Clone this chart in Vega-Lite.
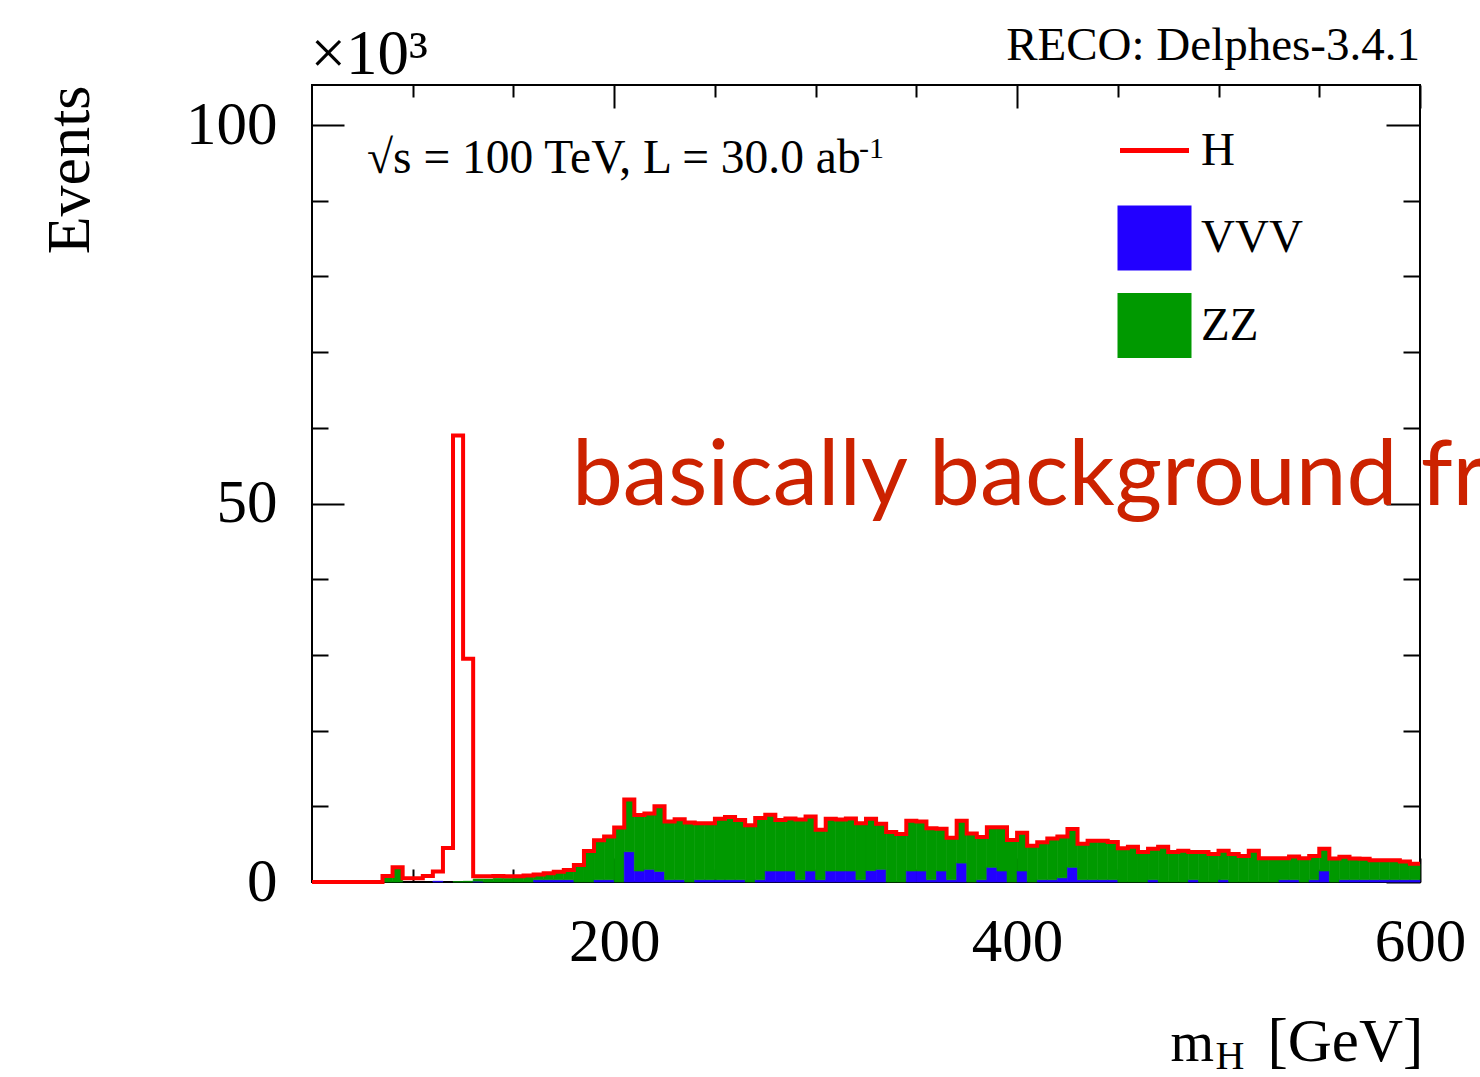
{
 "$schema": "https://vega.github.io/schema/vega-lite/v6.json",
 "width": 1108,
 "height": 797,
 "autosize": {"type": "none"},
 "padding": {"left": 312, "top": 85, "right": 60, "bottom": 195},
 "background": "white",
 "title": {"text": "RECO: Delphes-3.4.1", "anchor": "end", "frame": "group", "font": "Liberation Serif", "fontSize": 47, "fontWeight": "normal", "color": "black", "baseline": "alphabetic", "offset": 0, "dy": 84},
 "datasets": {"h": [
  {"lo":50,"hi":55,"VVV":0,"ZZ":0,"H":0},
  {"lo":55,"hi":60,"VVV":0,"ZZ":0,"H":0},
  {"lo":60,"hi":65,"VVV":0,"ZZ":0,"H":0},
  {"lo":65,"hi":70,"VVV":0,"ZZ":0,"H":0},
  {"lo":70,"hi":75,"VVV":0,"ZZ":0,"H":0},
  {"lo":75,"hi":80,"VVV":0,"ZZ":0,"H":0},
  {"lo":80,"hi":85,"VVV":0,"ZZ":0,"H":0},
  {"lo":85,"hi":90,"VVV":0,"ZZ":0.8,"H":0},
  {"lo":90,"hi":95,"VVV":0,"ZZ":1.95,"H":0},
  {"lo":95,"hi":100,"VVV":0,"ZZ":0,"H":0.5},
  {"lo":100,"hi":105,"VVV":0,"ZZ":0,"H":0.5},
  {"lo":105,"hi":110,"VVV":0,"ZZ":0,"H":0.8},
  {"lo":110,"hi":115,"VVV":0.1,"ZZ":0,"H":1.3},
  {"lo":115,"hi":120,"VVV":0,"ZZ":0,"H":4.5},
  {"lo":120,"hi":125,"VVV":0,"ZZ":0.05,"H":58.95},
  {"lo":125,"hi":130,"VVV":0,"ZZ":0.1,"H":29.4},
  {"lo":130,"hi":135,"VVV":0.1,"ZZ":0.3,"H":0.35},
  {"lo":135,"hi":140,"VVV":0,"ZZ":0.4,"H":0.35},
  {"lo":140,"hi":145,"VVV":0,"ZZ":0.5,"H":0.3},
  {"lo":145,"hi":150,"VVV":0,"ZZ":0.5,"H":0.25},
  {"lo":150,"hi":155,"VVV":0,"ZZ":0.55,"H":0.2},
  {"lo":155,"hi":160,"VVV":0,"ZZ":0.7,"H":0.15},
  {"lo":160,"hi":165,"VVV":0.3,"ZZ":0.6,"H":0.1},
  {"lo":165,"hi":170,"VVV":0.3,"ZZ":0.85,"H":0},
  {"lo":170,"hi":175,"VVV":0.3,"ZZ":1.07,"H":0},
  {"lo":175,"hi":180,"VVV":0.3,"ZZ":1.3,"H":0},
  {"lo":180,"hi":185,"VVV":0,"ZZ":2.25,"H":0},
  {"lo":185,"hi":190,"VVV":0,"ZZ":4.1,"H":0},
  {"lo":190,"hi":195,"VVV":0.3,"ZZ":5.2,"H":0},
  {"lo":195,"hi":200,"VVV":0.3,"ZZ":5.7,"H":0},
  {"lo":200,"hi":205,"VVV":0,"ZZ":7.2,"H":0},
  {"lo":205,"hi":210,"VVV":4.0,"ZZ":6.9,"H":0},
  {"lo":210,"hi":215,"VVV":1.45,"ZZ":7.4,"H":0},
  {"lo":215,"hi":220,"VVV":1.67,"ZZ":7.38,"H":0},
  {"lo":220,"hi":225,"VVV":1.4,"ZZ":8.6,"H":0},
  {"lo":225,"hi":230,"VVV":0.3,"ZZ":7.7,"H":0},
  {"lo":230,"hi":235,"VVV":0.3,"ZZ":8.0,"H":0},
  {"lo":235,"hi":240,"VVV":0,"ZZ":7.85,"H":0},
  {"lo":240,"hi":245,"VVV":0.3,"ZZ":7.45,"H":0},
  {"lo":245,"hi":250,"VVV":0.3,"ZZ":7.45,"H":0},
  {"lo":250,"hi":255,"VVV":0.3,"ZZ":8.05,"H":0},
  {"lo":255,"hi":260,"VVV":0.3,"ZZ":8.3,"H":0},
  {"lo":260,"hi":265,"VVV":0.3,"ZZ":7.9,"H":0},
  {"lo":265,"hi":270,"VVV":0,"ZZ":7.5,"H":0},
  {"lo":270,"hi":275,"VVV":0.3,"ZZ":8.15,"H":0},
  {"lo":275,"hi":280,"VVV":1.45,"ZZ":7.45,"H":0},
  {"lo":280,"hi":285,"VVV":1.45,"ZZ":6.75,"H":0},
  {"lo":285,"hi":290,"VVV":1.45,"ZZ":6.95,"H":0},
  {"lo":290,"hi":295,"VVV":0.3,"ZZ":7.95,"H":0},
  {"lo":295,"hi":300,"VVV":1.45,"ZZ":7.2,"H":0},
  {"lo":300,"hi":305,"VVV":0.3,"ZZ":6.6,"H":0},
  {"lo":305,"hi":310,"VVV":1.45,"ZZ":6.9,"H":0},
  {"lo":310,"hi":315,"VVV":1.45,"ZZ":6.8,"H":0},
  {"lo":315,"hi":320,"VVV":1.45,"ZZ":6.95,"H":0},
  {"lo":320,"hi":325,"VVV":0.3,"ZZ":7.45,"H":0},
  {"lo":325,"hi":330,"VVV":1.5,"ZZ":6.85,"H":0},
  {"lo":330,"hi":335,"VVV":1.67,"ZZ":6.03,"H":0},
  {"lo":335,"hi":340,"VVV":0,"ZZ":6.6,"H":0},
  {"lo":340,"hi":345,"VVV":0,"ZZ":6.35,"H":0},
  {"lo":345,"hi":350,"VVV":1.45,"ZZ":6.65,"H":0},
  {"lo":350,"hi":355,"VVV":1.45,"ZZ":6.55,"H":0},
  {"lo":355,"hi":360,"VVV":0.3,"ZZ":6.8,"H":0},
  {"lo":360,"hi":365,"VVV":1.45,"ZZ":5.6,"H":0},
  {"lo":365,"hi":370,"VVV":0.3,"ZZ":5.55,"H":0},
  {"lo":370,"hi":375,"VVV":2.5,"ZZ":5.6,"H":0},
  {"lo":375,"hi":380,"VVV":0,"ZZ":6.4,"H":0},
  {"lo":380,"hi":385,"VVV":0.3,"ZZ":5.65,"H":0},
  {"lo":385,"hi":390,"VVV":1.94,"ZZ":5.31,"H":0},
  {"lo":390,"hi":395,"VVV":1.45,"ZZ":5.8,"H":0},
  {"lo":395,"hi":400,"VVV":0,"ZZ":5.55,"H":0},
  {"lo":400,"hi":405,"VVV":1.45,"ZZ":5.05,"H":0},
  {"lo":405,"hi":410,"VVV":0,"ZZ":4.8,"H":0},
  {"lo":410,"hi":415,"VVV":0.3,"ZZ":4.95,"H":0},
  {"lo":415,"hi":420,"VVV":0.3,"ZZ":5.45,"H":0},
  {"lo":420,"hi":425,"VVV":0.55,"ZZ":5.45,"H":0},
  {"lo":425,"hi":430,"VVV":1.94,"ZZ":5.06,"H":0},
  {"lo":430,"hi":435,"VVV":0.3,"ZZ":4.75,"H":0},
  {"lo":435,"hi":440,"VVV":0.3,"ZZ":5.15,"H":0},
  {"lo":440,"hi":445,"VVV":0.3,"ZZ":5.15,"H":0},
  {"lo":445,"hi":450,"VVV":0.3,"ZZ":4.97,"H":0},
  {"lo":450,"hi":455,"VVV":0,"ZZ":4.45,"H":0},
  {"lo":455,"hi":460,"VVV":0,"ZZ":4.67,"H":0},
  {"lo":460,"hi":465,"VVV":0,"ZZ":3.95,"H":0},
  {"lo":465,"hi":470,"VVV":0.3,"ZZ":4.1,"H":0},
  {"lo":470,"hi":475,"VVV":0,"ZZ":4.67,"H":0},
  {"lo":475,"hi":480,"VVV":0,"ZZ":3.95,"H":0},
  {"lo":480,"hi":485,"VVV":0,"ZZ":4.14,"H":0},
  {"lo":485,"hi":490,"VVV":0.3,"ZZ":3.68,"H":0},
  {"lo":490,"hi":495,"VVV":0,"ZZ":3.95,"H":0},
  {"lo":495,"hi":500,"VVV":0,"ZZ":3.7,"H":0},
  {"lo":500,"hi":505,"VVV":0.3,"ZZ":3.84,"H":0},
  {"lo":505,"hi":510,"VVV":0,"ZZ":3.7,"H":0},
  {"lo":510,"hi":515,"VVV":0,"ZZ":3.44,"H":0},
  {"lo":515,"hi":520,"VVV":0,"ZZ":4.14,"H":0},
  {"lo":520,"hi":525,"VVV":0,"ZZ":3.15,"H":0},
  {"lo":525,"hi":530,"VVV":0,"ZZ":3.15,"H":0},
  {"lo":530,"hi":535,"VVV":0.3,"ZZ":2.85,"H":0},
  {"lo":535,"hi":540,"VVV":0.3,"ZZ":3.08,"H":0},
  {"lo":540,"hi":545,"VVV":0,"ZZ":3.15,"H":0},
  {"lo":545,"hi":550,"VVV":0.3,"ZZ":3.14,"H":0},
  {"lo":550,"hi":555,"VVV":1.45,"ZZ":2.93,"H":0},
  {"lo":555,"hi":560,"VVV":0,"ZZ":3.1,"H":0},
  {"lo":560,"hi":565,"VVV":0.3,"ZZ":3.05,"H":0},
  {"lo":565,"hi":570,"VVV":0.3,"ZZ":2.8,"H":0},
  {"lo":570,"hi":575,"VVV":0.3,"ZZ":2.78,"H":0},
  {"lo":575,"hi":580,"VVV":0.3,"ZZ":2.56,"H":0},
  {"lo":580,"hi":585,"VVV":0.3,"ZZ":2.56,"H":0},
  {"lo":585,"hi":590,"VVV":0.3,"ZZ":2.56,"H":0},
  {"lo":590,"hi":595,"VVV":0.3,"ZZ":2.4,"H":0},
  {"lo":595,"hi":600,"VVV":0.3,"ZZ":2.1,"H":0}
 ]},
 "data": {"name": "h"},
 "layer": [
  {
   "transform": [
    {"fold": ["VVV", "ZZ"], "as": ["proc", "n"]},
    {"stack": "n", "groupby": ["lo"], "sort": [{"field": "proc", "order": "ascending"}], "as": ["y0", "y1"]},
    {"filter": "datum.n > 0"}
   ],
   "mark": {"type": "rect", "strokeWidth": 0.6},
   "encoding": {
    "x": {"field": "lo", "type": "quantitative", "scale": {"domain": [50, 600], "nice": false, "zero": false},
      "axis": {"orient": "bottom", "values": [200, 400, 600], "tickSize": -24, "labelFontSize": 61, "labelBaseline": "alphabetic", "labelPadding": 102, "labelAngle": 0,
        "title": "[GeV]", "titleFontSize": 61, "titleX": 955, "titleY": 178, "titleAlign": "left", "titleBaseline": "alphabetic", "titleAngle": 0}},
    "x2": {"field": "hi"},
    "y": {"field": "y0", "type": "quantitative", "scale": {"domain": [0, 105.3], "nice": false, "zero": true},
      "axis": {"orient": "left", "values": [0, 50, 100], "tickSize": -32, "labelFontSize": 61, "labelPadding": 67, "labelBaseline": "middle",
        "title": "Events", "titleFontSize": 62, "titleAngle": 270, "titleAlign": "right", "titleBaseline": "alphabetic", "titleX": -224, "titleY": 0}},
    "y2": {"field": "y1"},
    "color": {"field": "proc", "type": "nominal", "scale": {"domain": ["H", "VVV", "ZZ"], "range": ["#ff0000", "#2200ff", "#009900"]},
      "legend": {"orient": "none", "legendX": 810, "legendY": 33, "title": null, "padding": 0, "symbolSize": 3600, "labelFont": "Liberation Serif", "labelFontSize": 47, "labelColor": "black", "labelOffset": 14, "rowPadding": 6.5,
        "encode": {"symbols": {"update": {
          "shape": {"signal": "datum.value === 'H' ? 'M-1.15,0H1.15M-1.15,-1M-1.15,1' : 'M-1.15,-1H1.15V1H-1.15Z'"},
          "fill": {"signal": "datum.value === 'H' ? 'transparent' : (datum.value === 'VVV' ? '#2200ff' : '#009900')"},
          "stroke": {"signal": "datum.value === 'H' ? '#ff0000' : 'transparent'"},
          "strokeWidth": {"value": 5},
          "opacity": {"value": 1}
        }}}}},
    "stroke": {"field": "proc", "type": "nominal", "scale": {"domain": ["H", "VVV", "ZZ"], "range": ["#ff0000", "#2200ff", "#009900"]}, "legend": null}
   }
  },
  {
   "transform": [
    {"fold": ["VVV", "ZZ", "H"], "as": ["proc", "n"]},
    {"aggregate": [{"op": "sum", "field": "n", "as": "tot"}], "groupby": ["lo", "hi"]},
    {"fold": ["lo", "hi"], "as": ["side", "edge"]}
   ],
   "mark": {"type": "line", "color": "#ff0000", "strokeWidth": 4, "interpolate": "linear"},
   "encoding": {
    "x": {"field": "edge", "type": "quantitative", "scale": {"domain": [50, 600], "nice": false, "zero": false},
      "axis": {"orient": "bottom", "values": [100, 150, 250, 300, 350, 450, 500, 550], "tickSize": -13, "labels": false,
        "title": "m", "titleFontSize": 56, "titleX": 858, "titleY": 178, "titleAlign": "left", "titleBaseline": "alphabetic", "titleAngle": 0}},
    "y": {"field": "tot", "type": "quantitative", "scale": {"domain": [0, 105.3], "nice": false, "zero": true},
      "axis": {"orient": "left", "values": [10, 20, 30, 40, 60, 70, 80, 90], "tickSize": -16, "labels": false, "title": null}},
    "order": [{"field": "edge", "type": "quantitative"}, {"field": "side", "type": "ordinal"}]
   }
  },
  {
   "data": {"values": [{}]},
   "mark": {"type": "text", "font": "Liberation Serif", "fontSize": 47.5, "align": "left", "baseline": "alphabetic", "color": "black"},
   "encoding": {
    "x": {"datum": 77.3, "type": "quantitative", "scale": {"domain": [50, 600], "nice": false, "zero": false},
      "axis": {"orient": "top", "values": [200, 400, 600], "tickSize": -23, "labels": false,
        "title": "×10³", "titleFontSize": 63, "titleX": -2, "titleY": -12, "titleAlign": "left", "titleBaseline": "alphabetic", "titleAngle": 0}},
    "y": {"datum": 93.66, "type": "quantitative", "scale": {"domain": [0, 105.3], "nice": false, "zero": true},
      "axis": {"orient": "right", "values": [0, 50, 100], "tickSize": -34, "labels": false, "title": null}},
    "text": {"value": "√s = 100 TeV, L = 30.0 ab"}
   }
  },
  {
   "data": {"values": [{}]},
   "mark": {"type": "text", "font": "Liberation Serif", "fontSize": 30, "align": "left", "baseline": "alphabetic", "color": "black"},
   "encoding": {
    "x": {"datum": 321.5, "type": "quantitative", "scale": {"domain": [50, 600], "nice": false, "zero": false},
      "axis": {"orient": "top", "values": [100, 150, 250, 300, 350, 450, 500, 550], "tickSize": -12, "labels": false, "title": null}},
    "y": {"datum": 95.6, "type": "quantitative", "scale": {"domain": [0, 105.3], "nice": false, "zero": true},
      "axis": {"orient": "right", "values": [10, 20, 30, 40, 60, 70, 80, 90], "tickSize": -17, "labels": false, "title": null}},
    "text": {"value": "-1"}
   }
  },
  {
   "data": {"values": [{}]},
   "mark": {"type": "text", "font": "Lato", "fontSize": 91, "align": "left", "baseline": "alphabetic", "color": "#cc2200"},
   "encoding": {
    "x": {"datum": 179, "type": "quantitative", "scale": {"domain": [50, 600], "nice": false, "zero": false},
      "axis": {"orient": "bottom", "ticks": false, "labels": false,
        "title": "H", "titleFontSize": 40, "titleX": 903, "titleY": 186, "titleAlign": "left", "titleBaseline": "alphabetic", "titleAngle": 0}},
    "y": {"datum": 49.8, "type": "quantitative", "scale": {"domain": [0, 105.3], "nice": false, "zero": true}, "axis": null},
    "text": {"value": "basically background fr"}
   }
  }
 ],
 "resolve": {"scale": {"x": "shared", "y": "shared"}, "axis": {"x": "independent", "y": "independent"}},
 "config": {
  "view": {"stroke": "black", "strokeWidth": 2},
  "axis": {"domain": false, "grid": false, "tickColor": "black", "tickWidth": 2, "zindex": 1, "labelFont": "Liberation Serif", "titleFont": "Liberation Serif", "labelColor": "black", "titleColor": "black", "titleFontWeight": "normal", "labelFlush": false, "labelOverlap": false}
 }
}
